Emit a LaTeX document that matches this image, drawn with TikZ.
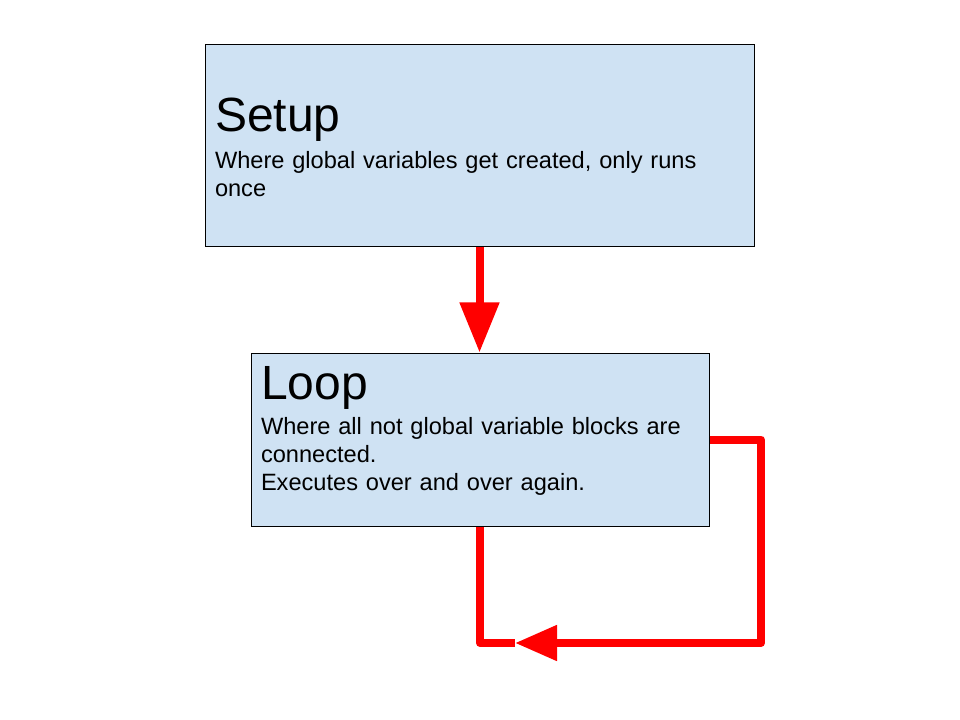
\documentclass[tikz,border=0pt]{standalone}
\usepackage{fontspec}
\setmainfont{Liberation Sans}
\usetikzlibrary{arrows.meta,positioning}
\definecolor{BoxBlue}{HTML}{CFE2F3}
\definecolor{Red}{HTML}{FF0000}
\newcommand{\boxtitle}[1]{{\fontsize{36}{40}\selectfont\rule{0pt}{28.8pt}#1}}
\newcommand{\bottomgap}[1]{\rule[-#1]{0pt}{0pt}}

\begin{document}
\begin{tikzpicture}[x=0.75pt,y=-0.75pt,
    block/.style={draw=black,fill=BoxBlue,line width=0.75pt,inner xsep=7.5pt,
      align=left,font=\fontsize{17.7}{21.3}\selectfont},
    flow/.style={draw=Red,line width=6pt,line join=round},
    head/.style={-{Triangle[length=37.5pt,width=28.5pt]}},
    smallhead/.style={-{Triangle[length=31.5pt,width=25.5pt]}}]
  \useasboundingbox (0,0) rectangle (960,720);
  % the two blocks
  \node[block,minimum width=411.75pt,minimum height=151.5pt,text width=396.75pt]
    (setup) at (479.5,146)
    {\boxtitle{Setup}\\[6.2pt]Where global variables get created, only runs\\once\bottomgap{1.5pt}};
  \node[block,minimum width=343.5pt,minimum height=129.75pt,text width=328.5pt]
    (loop) at (480,439.5)
    {\boxtitle{Loop}\\[4.7pt]Where all not global variable blocks are\\connected.\\Executes over and over again.\bottomgap{20.3pt}};
  % connectors
  \coordinate (turn) at (761,643);
  \coordinate (tip) at (515,643);
  \draw[flow,head] (setup.south) -- (setup.south |- loop.north);
  \draw[flow,smallhead] (loop.east) -| (turn) -- (tip);
  \draw[flow] (tip) -| (loop.south);
\end{tikzpicture}
\end{document}
